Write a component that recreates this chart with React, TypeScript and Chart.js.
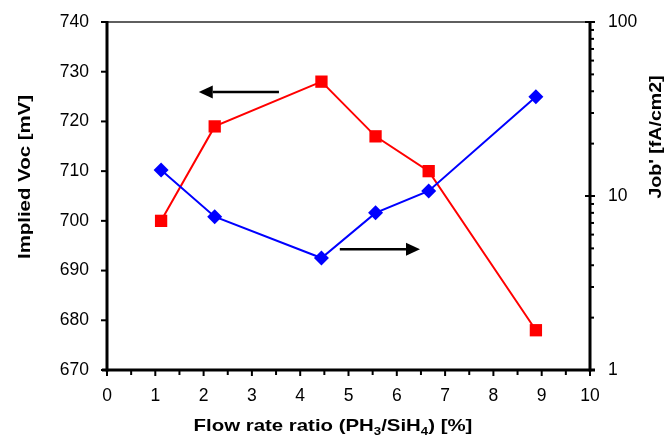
import React, { useEffect, useRef } from 'react';
import { Chart, registerables } from 'chart.js';

Chart.register(...registerables);

// ---- data ----
const flowRatio = [1.12, 2.23, 4.44, 5.56, 6.66, 8.88];
const impliedVoc = [700, 719, 728, 717, 710, 678];
const jobValues = [14.1, 7.6, 4.4, 8.0, 10.7, 37.2];

// ---- axis ticks ----
const xMajorTicks = [0, 1, 2, 3, 4, 5, 6, 7, 8, 9, 10];
const xMinorTicks = [0.5, 1.5, 2.5, 3.5, 4.5, 5.5, 6.5, 7.5, 8.5, 9.5];
const vocTicks = [670, 680, 690, 700, 710, 720, 730, 740];
const jobMajorTicks = [1, 10, 100];
const jobMinorTicks = [2, 3, 4, 5, 6, 7, 8, 9, 20, 30, 40, 50, 60, 70, 80, 90];

// ---- annotation arrows (data coordinates on x / left axis) ----
const arrowTailX = [3.56, 4.82];
const arrowHeadX = [1.9, 6.48];
const arrowY = [725.9, 694.3];

const FONT = '"Liberation Sans", Arial, Helvetica, sans-serif';
const TITLE_STRETCH = 1.2;

const axesPlugin = {
  id: 'customAxes',
  beforeDatasetsDraw(chart: any) {
    const ctx = chart.ctx;
    const { left, right, top, bottom } = chart.chartArea;
    const xs = chart.scales.x;
    const yl = chart.scales.y;
    const yr = chart.scales.y2;
    ctx.save();
    // top border (thin)
    ctx.strokeStyle = '#2a2a2a';
    ctx.lineWidth = 1.5;
    ctx.beginPath();
    ctx.moveTo(left - 6, top);
    ctx.lineTo(right, top);
    ctx.stroke();

    ctx.strokeStyle = '#000';
    ctx.lineWidth = 3;
    ctx.lineCap = 'butt';
    // left axis
    ctx.beginPath();
    ctx.moveTo(left, top - 1);
    ctx.lineTo(left, bottom + 1.5);
    ctx.stroke();
    // right axis
    ctx.beginPath();
    ctx.moveTo(right, top - 1);
    ctx.lineTo(right, bottom + 1.5);
    ctx.stroke();
    // bottom axis
    ctx.beginPath();
    ctx.moveTo(left - 5, bottom);
    ctx.lineTo(right + 5, bottom);
    ctx.stroke();

    ctx.lineWidth = 2;
    // left ticks (outward)
    vocTicks.forEach((v) => {
      const y = yl.getPixelForValue(v);
      ctx.beginPath();
      ctx.moveTo(left - 6, y);
      ctx.lineTo(left, y);
      ctx.stroke();
    });
    // x major ticks
    xMajorTicks.forEach((v) => {
      const x = xs.getPixelForValue(v);
      ctx.beginPath();
      ctx.moveTo(x, bottom);
      ctx.lineTo(x, bottom + 6);
      ctx.stroke();
    });
    xMinorTicks.forEach((v) => {
      const x = xs.getPixelForValue(v);
      ctx.beginPath();
      ctx.moveTo(x, bottom);
      ctx.lineTo(x, bottom + 5);
      ctx.stroke();
    });
    // right ticks
    jobMajorTicks.forEach((v) => {
      const y = yr.getPixelForValue(v);
      ctx.beginPath();
      ctx.moveTo(right - 5, y);
      ctx.lineTo(right + 5, y);
      ctx.stroke();
    });
    jobMinorTicks.forEach((v) => {
      const y = yr.getPixelForValue(v);
      ctx.beginPath();
      ctx.moveTo(right, y);
      ctx.lineTo(right + 4, y);
      ctx.stroke();
    });
    ctx.restore();
  },
  afterDraw(chart: any) {
    const ctx = chart.ctx;
    const xs = chart.scales.x;
    const yl = chart.scales.y;
    ctx.save();
    // arrows
    ctx.strokeStyle = '#000';
    ctx.fillStyle = '#000';
    ctx.lineWidth = 2.5;
    for (let i = 0; i < arrowTailX.length; i++) {
      const x1 = xs.getPixelForValue(arrowTailX[i]);
      const x2 = xs.getPixelForValue(arrowHeadX[i]);
      const y = yl.getPixelForValue(arrowY[i]);
      const dir = Math.sign(x2 - x1);
      const headLen = 14;
      const headHalf = 6.5;
      ctx.beginPath();
      ctx.moveTo(x1, y);
      ctx.lineTo(x2 - dir * headLen, y);
      ctx.stroke();
      ctx.beginPath();
      ctx.moveTo(x2, y);
      ctx.lineTo(x2 - dir * headLen, y - headHalf);
      ctx.lineTo(x2 - dir * headLen, y + headHalf);
      ctx.closePath();
      ctx.fill();
    }

    // axis titles
    ctx.fillStyle = '#000';
    ctx.font = `bold 17px ${FONT}`;
    ctx.textAlign = 'center';
    ctx.textBaseline = 'alphabetic';

    ctx.save();
    ctx.translate(30, 177);
    ctx.rotate(-Math.PI / 2);
    ctx.scale(TITLE_STRETCH, 1);
    ctx.fillText('Implied Voc [mV]', 0, 0);
    ctx.restore();

    ctx.save();
    ctx.translate(661, 137);
    ctx.rotate(-Math.PI / 2);
    ctx.scale(1.15, 1);
    ctx.fillText("Job' [fA/cm2]", 0, 0);
    ctx.restore();

    // x title with subscripts
    const big = `bold 17px ${FONT}`;
    const small = `bold 11px ${FONT}`;
    const parts: [string, boolean][] = [
      ['Flow rate ratio (PH', false],
      ['3', true],
      ['/SiH', false],
      ['4', true],
      [') [%]', false],
    ];
    let total = 0;
    parts.forEach(([t, sub]) => {
      ctx.font = sub ? small : big;
      total += ctx.measureText(t).width;
    });
    ctx.save();
    ctx.translate(333, 431);
    ctx.scale(TITLE_STRETCH, 1);
    let cx = -total / 2;
    ctx.textAlign = 'left';
    parts.forEach(([t, sub]) => {
      ctx.font = sub ? small : big;
      ctx.fillText(t, cx, sub ? 4 : 0);
      cx += ctx.measureText(t).width;
    });
    ctx.restore();
    ctx.restore();
  },
};

export default function App() {
  const canvasRef = useRef<HTMLCanvasElement | null>(null);

  useEffect(() => {
    document.body.style.margin = '0';
    const canvas = canvasRef.current;
    if (!canvas) return;
    const tickFont = { family: FONT, size: 17.5 };
    const chart = new Chart(canvas, {
      type: 'line',
      data: {
        datasets: [
          {
            label: "Job'",
            data: flowRatio.map((x, i) => ({ x, y: jobValues[i] })),
            yAxisID: 'y2',
            borderColor: '#0000FF',
            backgroundColor: '#0000FF',
            borderWidth: 2,
            pointStyle: 'rectRot',
            pointRadius: 7.5,
            pointBorderWidth: 0,
            tension: 0,
          },
          {
            label: 'Implied Voc',
            data: flowRatio.map((x, i) => ({ x, y: impliedVoc[i] })),
            yAxisID: 'y',
            borderColor: '#FF0000',
            backgroundColor: '#FF0000',
            borderWidth: 2,
            pointStyle: 'rect',
            pointRadius: 8.7,
            pointBorderWidth: 0,
            tension: 0,
          },
        ],
      },
      options: {
        responsive: false,
        animation: false,
        layout: { padding: 0 },
        plugins: { legend: { display: false }, tooltip: { enabled: false } },
        scales: {
          x: {
            type: 'linear',
            min: 0,
            max: 10,
            afterBuildTicks: (s: any) => {
              s.ticks = xMajorTicks.map((v) => ({ value: v }));
            },
            afterFit: (s: any) => {
              s.height = 69;
              s.paddingLeft = 0;
              s.paddingRight = 0;
            },
            ticks: { font: tickFont, color: '#000', padding: 15.5, maxRotation: 0, autoSkip: false },
            grid: { display: false, drawTicks: false, tickLength: 0 },
            border: { display: false },
          },
          y: {
            type: 'linear',
            position: 'left',
            min: 670,
            max: 740,
            afterBuildTicks: (s: any) => {
              s.ticks = vocTicks.map((v) => ({ value: v }));
            },
            afterFit: (s: any) => {
              s.width = 107;
              s.paddingTop = 22;
              s.paddingBottom = 0;
            },
            ticks: { font: tickFont, color: '#000', padding: 18, autoSkip: false },
            grid: { display: false, drawTicks: false, tickLength: 0 },
            border: { display: false },
          },
          y2: {
            type: 'logarithmic',
            position: 'right',
            min: 1,
            max: 100,
            afterBuildTicks: (s: any) => {
              s.ticks = jobMajorTicks.map((v) => ({ value: v }));
            },
            afterFit: (s: any) => {
              s.width = 75;
              s.paddingTop = 22;
              s.paddingBottom = 0;
            },
            ticks: {
              font: tickFont,
              color: '#000',
              padding: 18,
              autoSkip: false,
              callback: (v: any) => String(v),
            },
            grid: { display: false, drawTicks: false, tickLength: 0 },
            border: { display: false },
          },
        },
      },
      plugins: [axesPlugin],
    });
    return () => chart.destroy();
  }, []);

  return (
    <div style={{ width: 665, height: 439 }}>
      <canvas ref={canvasRef} width={665} height={439} />
    </div>
  );
}
